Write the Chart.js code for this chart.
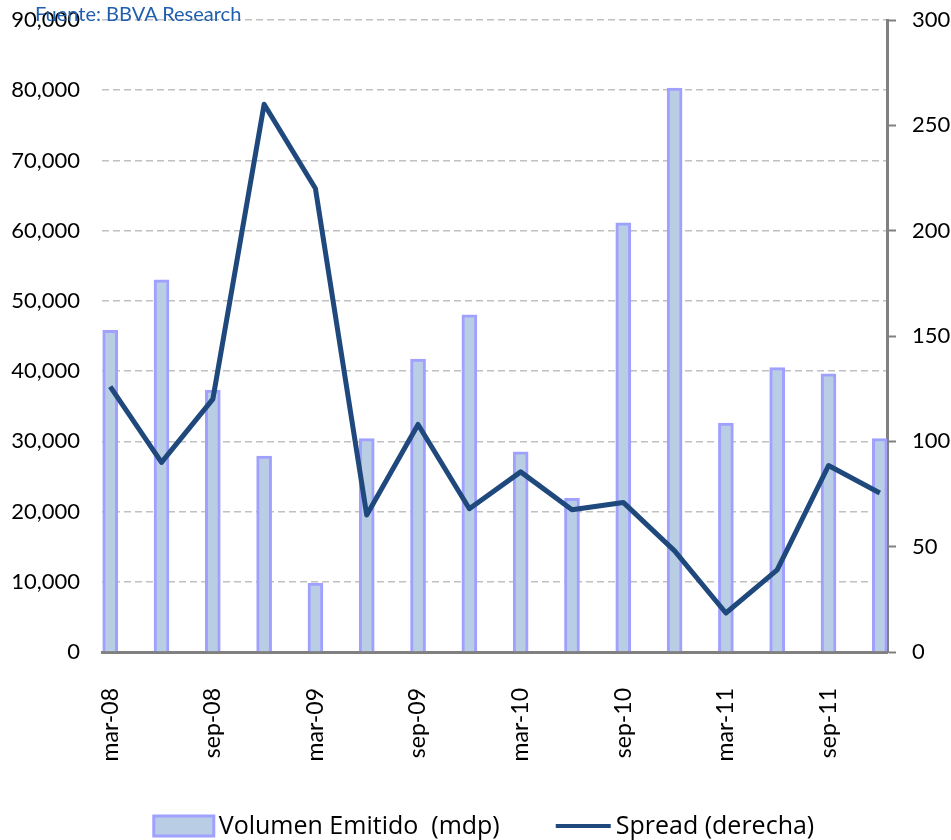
<!DOCTYPE html>
<html>
<head>
<meta charset="utf-8">
<script src="https://cdn.jsdelivr.net/npm/chart.js@4/dist/chart.umd.min.js"></script>
<style>
  html, body { margin: 0; padding: 0; background: #ffffff; }
  #wrap { position: relative; width: 951px; height: 840px; overflow: hidden; }
  canvas { display: block; }
  #src { position: absolute; left: 35px; top: 1px; font: 20px Lato, sans-serif; color: #1f5fae; white-space: nowrap; }
</style>
</head>
<body>
<div id="wrap">
  <canvas id="c" width="951" height="840"></canvas>
  <div id="src">Fuente: BBVA Research</div>
</div>
<script>
// Quarterly issuance (mdp) and spread (bp, right axis)
const categories = ['mar-08','jun-08','sep-08','dic-08','mar-09','jun-09','sep-09','dic-09',
                    'mar-10','jun-10','sep-10','dic-10','mar-11','jun-11','sep-11','dic-11'];
const volumen = [45800, 53000, 37300, 27900, 9800, 30400, 41700, 48000,
                 28500, 21900, 61100, 80300, 32600, 40500, 39600, 30400];
const spread  = [126, 90, 120, 260, 220, 65, 108, 68,
                 85.5, 67.5, 71, 48, 18.5, 39, 88.5, 75.5];
const tickIndices = [0, 2, 4, 6, 8, 10, 12, 14];
const seriesNames = ['Volumen Emitido  (mdp)', 'Spread (derecha)'];

const FONT = 'Lato, sans-serif';
const LEGEND_FONT = '25px "Open Sans", sans-serif';
const BAR_FILL = '#b9cde5';
const BAR_EDGE = '#a0a0ff';
const LINE_COL = '#1f497d';
const AXIS_COL = '#808080';

// Fixed scale box sizes, without the extra label overhang padding
function fixBox(w, h) {
  return (s) => {
    if (w !== null) s.width = w;
    if (h !== null) s.height = h;
    s.paddingTop = 0; s.paddingBottom = 0;
    s.paddingLeft = 0; s.paddingRight = 0;
  };
}

// Legend drawn below the axis: a boxed swatch for the bars, a stroke for the line
const bottomLegend = {
  id: 'bottomLegend',
  afterDraw(ch) {
    const ctx = ch.ctx;
    const cy = 826;
    const swatchW = 60, swatchH = 20, lineW = 55, textGap = 5, itemGap = 56;
    ctx.save();
    ctx.font = LEGEND_FONT;
    ctx.textBaseline = 'middle';
    ctx.textAlign = 'left';
    const labels = ch.data.datasets.map(d => d.label);
    const w0 = ctx.measureText(labels[0]).width;
    const w1 = ctx.measureText(labels[1]).width;
    const total = swatchW + textGap + w0 + itemGap + lineW + textGap + w1;
    let x = 484 - total / 2;

    ctx.fillStyle = BAR_FILL;
    ctx.strokeStyle = BAR_EDGE;
    ctx.lineWidth = 3;
    ctx.fillRect(x, cy - swatchH / 2, swatchW, swatchH);
    ctx.strokeRect(x, cy - swatchH / 2, swatchW, swatchH);
    x += swatchW + textGap;
    ctx.fillStyle = '#000';
    ctx.fillText(labels[0], x, cy + 1);
    x += w0 + itemGap;

    ctx.strokeStyle = LINE_COL;
    ctx.lineWidth = 4;
    ctx.beginPath();
    ctx.moveTo(x, cy);
    ctx.lineTo(x + lineW, cy);
    ctx.stroke();
    x += lineW + textGap;
    ctx.fillStyle = '#000';
    ctx.fillText(labels[1], x, cy + 1);
    ctx.restore();
  }
};

const chart = new Chart(document.getElementById('c'), {
  data: {
    datasets: [
      {
        type: 'bar',
        label: seriesNames[0],
        data: volumen.map((v, i) => ({ x: i, y: v })),
        backgroundColor: BAR_FILL,
        borderColor: BAR_EDGE,
        borderWidth: 3,
        barThickness: 15,
        yAxisID: 'y',
        order: 2
      },
      {
        type: 'line',
        label: seriesNames[1],
        data: spread.map((v, i) => ({ x: i, y: v })),
        borderColor: LINE_COL,
        backgroundColor: LINE_COL,
        borderWidth: 5,
        pointRadius: 0,
        tension: 0,
        borderJoinStyle: 'round',
        yAxisID: 'y1',
        order: 1
      }
    ]
  },
  plugins: [bottomLegend],
  options: {
    responsive: false,
    animation: false,
    devicePixelRatio: 1,
    layout: { padding: { top: 20, left: 0, right: 0, bottom: 0 } },
    plugins: {
      tooltip: { enabled: false },
      legend: { display: false }
    },
    scales: {
      x: {
        type: 'linear',
        offset: false,
        min: -0.16,
        max: 15.14,
        afterBuildTicks: (s) => { s.ticks = tickIndices.map(v => ({ value: v })); },
        afterFit: fixBox(null, 188),
        grid: { display: false },
        border: { display: true, color: AXIS_COL, width: 3 },
        ticks: {
          autoSkip: false,
          minRotation: 90,
          maxRotation: 90,
          padding: 28,
          color: '#000',
          font: { family: FONT, size: 23 },
          callback: (v) => categories[v]
        }
      },
      y: {
        position: 'left',
        min: 0,
        max: 90000,
        afterFit: fixBox(102, null),
        ticks: {
          stepSize: 10000,
          padding: 22,
          color: '#000',
          font: { family: FONT, size: 22 },
          callback: (v) => v.toLocaleString('en-US')
        },
        grid: { color: '#c0c0c0', lineWidth: 1.5, drawTicks: false },
        border: { display: false, dash: [7, 4] }
      },
      y1: {
        position: 'right',
        min: 0,
        max: 300,
        afterFit: fixBox(64, null),
        ticks: {
          stepSize: 50,
          padding: 16,
          color: '#000',
          font: { family: FONT, size: 22 }
        },
        grid: { drawOnChartArea: false, drawTicks: true, tickLength: 9, tickColor: AXIS_COL, tickWidth: 2 },
        border: { display: true, color: AXIS_COL, width: 3 }
      }
    }
  }
});
</script>
</body>
</html>
